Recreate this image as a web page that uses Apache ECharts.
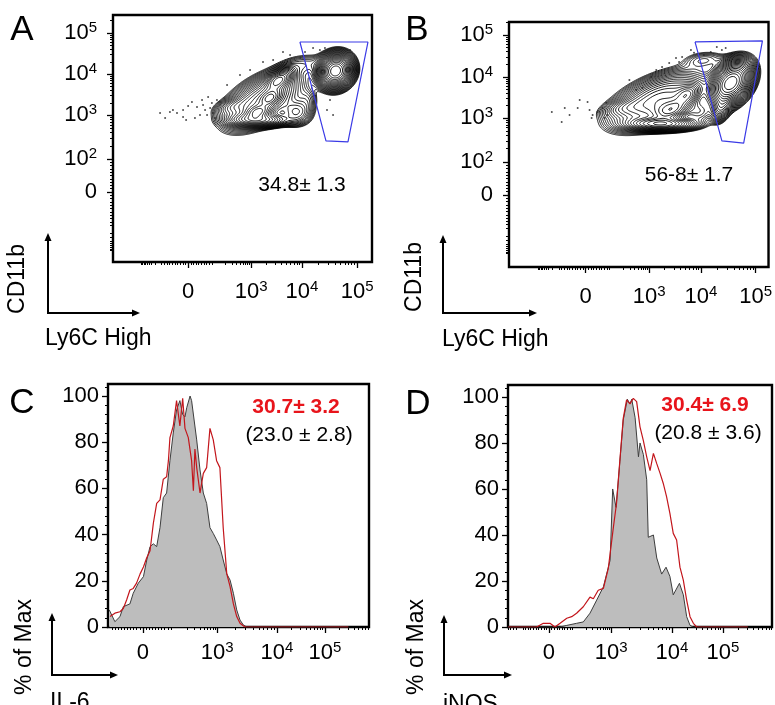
<!DOCTYPE html>
<html><head><meta charset="utf-8">
<script src="https://cdn.jsdelivr.net/npm/echarts@6/dist/echarts.min.js"></script>
<style>html,body{margin:0;padding:0;background:#fff}#c{width:775px;height:705px}</style>
</head><body><div id="c"></div>
<script>
// ---------- tick labels ----------
const xTickLabels = ['0', '10{s|3}', '10{s|4}', '10{s|5}'];
const yTickLabelsAB = ['0', '10{s|2}', '10{s|3}', '10{s|4}', '10{s|5}'];
const histYTickLabels = ['0', '20', '40', '60', '80', '100'];
const histYTickValues = [0, 20, 40, 60, 80, 100];
// label positions on the display (channel 0-1024) scale
const aXTickPos = [297, 546, 747, 965];
const aYTickPos = [290, 427, 609, 779, 949];
const bXTickPos = [302, 553, 757, 973];
const bYTickPos = [301, 439, 623, 794, 970];
const cXTickPos = [137, 428, 663, 851];
const dXTickPos = [159, 400, 636, 834];

// ---------- panel A: populations [centerX, centerY, spreadX, spreadY, correlation, weight] ----------
const aPopLy6CHigh   = [880, 792, 31.6, 33.2, 0.10, 1.00];
const aPopEnvelope   = [593, 672, 75.0, 58.0, 0.55, 0.25];
const aPopBottomBand = [573, 589, 59.3, 14.5, 0.00, 0.30];
const aPopLowerPeak  = [573, 622, 27.7, 16.6, 0.30, 0.35];
const aPopMidPeak    = [621, 680, 23.7, 20.7, 0.40, 0.30];
const aPopUpperPeak  = [656, 755, 29.0, 24.9, 0.50, 0.35];
const aPopLowerRight = [725, 622, 33.0, 29.0, 0.00, 0.10];
const aPopTail       = [471, 643, 39.5, 20.7, 0.40, 0.05];
const aPopRightExt   = [767, 672, 23.7, 29.0, 0.00, 0.03];
const aPopNeck       = [759, 821, 55.4, 24.9, 0.20, 0.025];
const aOutlierEvents = [[206,597],[225,622],[237,630],[253,618],[277,601],[277,630],[312,663],[332,643],[352,672],[356,651],[364,630],[372,609],[344,609],[376,684],[384,638],[395,618],[391,659],[411,672],[451,734],[593,829],[633,837],[672,871],[700,858],[791,887],[818,879],[838,887],[937,879],[846,630],[870,609],[858,672],[289,589],[324,597],[297,647],[186,618],[403,597],[502,775],[542,796],[759,871]];
const aGate = [[739,912],[1008,912],[929,498],[842,502],[739,912]];

// ---------- panel B ----------
const bPopLy6CHigh   = [875, 769, 39.0, 43.9, 0.35, 1.00];
const bPopHighLower  = [836, 665, 19.6, 29.3, 0.30, 0.15];
const bPopEnvelope   = [592, 698, 94.0, 58.5, 0.55, 0.25];
const bPopBottomBand = [600, 598, 66.7, 14.6, 0.00, 0.45];
const bPopLowerPeak  = [639, 656, 39.2, 25.1, 0.40, 0.35];
const bPopUpperPeak  = [702, 719, 27.5, 25.1, 0.40, 0.25];
const bPopLowerRight = [749, 648, 31.4, 25.1, 0.00, 0.06];
const bPopTail       = [455, 665, 47.1, 20.9, 0.40, 0.05];
const bPopNeck       = [769, 865, 47.1, 20.9, 0.20, 0.03];
const bOutlierEvents = [[169,648],[208,606],[220,665],[239,635],[271,665],[279,698],[310,690],[318,656],[330,635],[326,623],[349,648],[369,665],[377,623],[384,686],[388,635],[475,782],[502,740],[526,748],[561,794],[581,823],[604,836],[632,853],[659,874],[671,857],[683,878],[718,907],[730,895],[769,886],[796,899],[840,907],[855,915],[820,920]];
const bGate = [[734,941],[1000,945],[926,518],[840,527],[734,941]];

// ---------- panel C: IL-6 histograms [channel, % of max] ----------
const cControl = [[5,7.4],[27,2.3],[47,4.5],[60,8.8],[86,10],[99,14.6],[119,19],[139,21.8],[152,29],[165,34.8],[178,36],[191,34.8],[204,43],[217,56],[230,58],[243,72],[256,84],[269,94],[282,98],[293,92],[302,91],[309,95],[322,100],[328,98],[348,81],[361,68],[374,58],[387,53.5],[400,43],[413,40.5],[426,37.7],[439,34.8],[452,29],[466,23],[479,20.3],[492,14.6],[505,7.4],[518,3],[531,0.9],[544,0],[943,0]];
const cTreated = [[8,4.5],[27,6],[47,6.6],[60,8],[73,11.7],[86,16],[99,16.7],[112,19],[126,23],[139,26],[152,30],[165,33],[178,45],[191,53.5],[204,55],[217,64],[230,65],[237,72],[243,82],[256,87],[269,98],[282,87],[293,99],[302,86],[315,82],[328,72],[335,59],[341,77],[348,69],[361,58],[374,66.5],[387,69],[400,86],[413,81],[426,72],[439,69],[452,43],[466,23],[479,17.5],[492,10],[505,4.5],[518,1.6],[537,0],[943,0]];
// ---------- panel D: iNOS histograms ----------
const dControl = [[1,0],[202,0],[228,0.7],[266,1.6],[292,2.2],[318,6],[344,11.7],[370,17.5],[396,29],[406,60],[419,52],[434,72],[447,90],[463,99],[473,97],[480,99],[493,91],[506,74],[512,80],[525,75],[538,64],[544,39],[564,40],[577,30],[596,23],[613,26],[628,22],[641,14],[665,19],[680,14],[693,4.5],[706,0.7],[719,0],[930,0]];
const dTreated = [[1,0],[111,0],[137,1.6],[163,1.6],[182,0],[202,1.6],[228,3.8],[247,4.5],[266,6],[292,8.8],[318,13],[331,12.3],[350,16],[370,16.8],[389,25.5],[409,43.6],[421,53.8],[434,72.6],[447,90.7],[460,98.7],[473,97],[486,99.4],[499,98],[512,87],[525,81],[538,74],[551,68],[564,75.5],[577,71],[590,66.8],[602,62.5],[615,56.7],[628,49.4],[641,40.7],[654,37.8],[667,26],[680,20.4],[693,11.7],[706,4.5],[719,1.6],[732,0],[930,0]];

const aPops = [aPopLy6CHigh, aPopEnvelope, aPopBottomBand, aPopLowerPeak, aPopMidPeak, aPopUpperPeak, aPopLowerRight, aPopTail, aPopRightExt, aPopNeck];
const bPops = [bPopLy6CHigh, bPopHighLower, bPopEnvelope, bPopBottomBand, bPopLowerPeak, bPopUpperPeak, bPopLowerRight, bPopTail, bPopNeck];

// ---------- contour computation (marching squares on a density grid) ----------
function density(pops, x, y) {
  let s = 0;
  for (const [cx, cy, sx, sy, r, w] of pops) {
    const dx = (x - cx) / sx, dy = (y - cy) / sy;
    const q = (dx * dx - 2 * r * dx * dy + dy * dy) / (1 - r * r);
    s += w * Math.exp(-q / 2);
  }
  return s;
}
function contourSegments(pops, nLevels, minFrac) {
  const N = 256, step = 1024 / N, W = N + 1;
  const g = new Float64Array(W * W);
  let max = 0;
  for (let j = 0; j <= N; j++) for (let i = 0; i <= N; i++) {
    const v = density(pops, i * step, j * step);
    g[j * W + i] = v; if (v > max) max = v;
  }
  const table = {1:[[0,3]],2:[[0,1]],3:[[1,3]],4:[[1,2]],5:[[0,3],[1,2]],6:[[0,2]],7:[[2,3]],8:[[2,3]],9:[[0,2]],10:[[0,1],[2,3]],11:[[1,2]],12:[[1,3]],13:[[0,1]],14:[[0,3]]};
  const segs = [];
  for (let k = 1; k <= nLevels; k++) {
    const L = max * Math.pow(minFrac, k / nLevels);
    for (let j = 0; j < N; j++) for (let i = 0; i < N; i++) {
      const a = g[j * W + i], b = g[j * W + i + 1], c = g[(j + 1) * W + i + 1], d = g[(j + 1) * W + i];
      const idx = (a > L ? 1 : 0) | (b > L ? 2 : 0) | (c > L ? 4 : 0) | (d > L ? 8 : 0);
      if (idx === 0 || idx === 15) continue;
      const x0 = i * step, y0 = j * step;
      const ep = e => {
        if (e === 0) return [x0 + step * (L - a) / (b - a), y0];
        if (e === 1) return [x0 + step, y0 + step * (L - b) / (c - b)];
        if (e === 2) return [x0 + step * (L - d) / (c - d), y0 + step];
        return [x0, y0 + step * (L - a) / (d - a)];
      };
      for (const [e1, e2] of table[idx]) segs.push({coords: [ep(e1), ep(e2)]});
    }
  }
  return segs;
}

// ---------- ticks ----------
function minorTicks(p0, decs) {
  const out = [];
  const n = decs.length;
  for (let k = 0; k < n; k++) {
    const p = decs[k], q = k < n - 1 ? decs[k + 1] : p + (p - decs[k - 1]);
    for (let m = 2; m <= 9; m++) out.push(p + (q - p) * Math.log10(m));
  }
  const s = decs[0] - p0;
  for (let m = 1; m <= 9; m++) { out.push(p0 + s * m / 10); out.push(p0 - s * m / 10); }
  out.push(p0 - s);
  for (let m = 2; m <= 9; m++) out.push(p0 - s - s * 0.8 * Math.log10(m));
  return out.filter(v => v > 0 && v < 1024);
}

const FONT = '"Liberation Sans", Arial, sans-serif';
const rich = {s: {fontSize: 15, verticalAlign: 'top', lineHeight: 15, fontFamily: FONT, color: '#000'}};

function axisPair(dim, grid, pos, labels, p2, margin, min, max, minors) {
  const isX = dim === 'x';
  const mn = minors || minorTicks(pos[0], [p2].concat(isX ? pos.slice(1) : pos.slice(2)));
  const base = {type: 'value', gridIndex: grid, min: min, max: max, position: isX ? 'bottom' : 'left',
    axisLine: {show: false}, splitLine: {show: false}};
  return [
    Object.assign({}, base, {
      axisTick: {show: true, customValues: pos, length: 6, lineStyle: {color: '#000', width: 1.3}},
      axisLabel: {show: true, customValues: pos, margin: margin, fontSize: 22, lineHeight: 26, color: '#000', fontFamily: FONT, rich: rich,
        formatter: v => { let bi = 0; pos.forEach((p, i) => { if (Math.abs(p - v) < Math.abs(pos[bi] - v)) bi = i; }); return labels[bi]; }}
    }),
    Object.assign({}, base, {
      axisLabel: {show: false},
      axisTick: {show: true, customValues: mn, length: 3, lineStyle: {color: '#000', width: 1}}
    })
  ];
}

const histMinorY = [4,8,12,16,24,28,32,36,44,48,52,56,64,68,72,76,84,88,92,96,104];
const xAxes = [].concat(
  axisPair('x', 0, aXTickPos, xTickLabels, aXTickPos[0] + 0.42 * (aXTickPos[1] - aXTickPos[0]), 17, 0, 1024),
  axisPair('x', 1, bXTickPos, xTickLabels, bXTickPos[0] + 0.42 * (bXTickPos[1] - bXTickPos[0]), 17, 0, 1024),
  axisPair('x', 2, cXTickPos, xTickLabels, cXTickPos[0] + 0.42 * (cXTickPos[1] - cXTickPos[0]), 13, 0, 1024),
  axisPair('x', 3, dXTickPos, xTickLabels, dXTickPos[0] + 0.42 * (dXTickPos[1] - dXTickPos[0]), 13, 0, 1024)
);
const yAxes = [].concat(
  axisPair('y', 0, aYTickPos, yTickLabelsAB, aYTickPos[1], 16, 0, 1024),
  axisPair('y', 1, bYTickPos, yTickLabelsAB, bYTickPos[1], 16, 0, 1024),
  axisPair('y', 2, histYTickValues, histYTickLabels, 0, 9, 0, 105.2, histMinorY),
  axisPair('y', 3, histYTickValues, histYTickLabels, 0, 9, 0, 105.2, histMinorY)
);

const grids = [
  {left: 113, top: 15, width: 259, height: 247},
  {left: 509, top: 22, width: 261, height: 245},
  {left: 108, top: 384, width: 261, height: 243},
  {left: 508, top: 385, width: 264, height: 242}
].map(g => Object.assign(g, {show: true, borderColor: '#000', borderWidth: 2.4, backgroundColor: 'transparent'}));

function contourSeries(pops, gi) {
  return {type: 'lines', coordinateSystem: 'cartesian2d', xAxisIndex: gi * 2, yAxisIndex: gi * 2, polyline: false,
    large: true, largeThreshold: 100, silent: true, animation: false,
    lineStyle: {color: '#000', width: 0.9, opacity: 1}, data: contourSegments(pops, 24, 0.01)};
}
function dotSeries(ev, gi) {
  return {type: 'scatter', xAxisIndex: gi * 2, yAxisIndex: gi * 2, symbolSize: 2, itemStyle: {color: '#222'}, data: ev, silent: true, animation: false};
}
function gateSeries(gt, gi) {
  return {type: 'line', xAxisIndex: gi * 2, yAxisIndex: gi * 2, data: gt, symbol: 'none', lineStyle: {color: '#3a3ae6', width: 1.2}, silent: true, animation: false, z: 5};
}
function histSeries(d, gi, ctrl) {
  return ctrl ? {type: 'line', xAxisIndex: gi * 2, yAxisIndex: gi * 2, data: d, symbol: 'none', lineStyle: {color: '#3d3d3d', width: 1}, areaStyle: {color: '#bdbdbd', opacity: 1}, silent: true, animation: false}
              : {type: 'line', xAxisIndex: gi * 2, yAxisIndex: gi * 2, data: d, symbol: 'none', lineStyle: {color: '#c3161c', width: 1.2}, silent: true, animation: false, z: 3};
}

function txt(x, y, s, size, opts) {
  return Object.assign({type: 'text', x: x, y: y, style: Object.assign({text: s, fontSize: size, fontFamily: FONT, fill: '#000', align: 'center', verticalAlign: 'middle'}, (opts && opts.style) || {})}, (opts && opts.el) || {});
}
function arrows(x0, y0, yTop, xRight) {
  return [
    {type: 'line', shape: {x1: x0, y1: y0, x2: x0, y2: yTop + 6}, style: {stroke: '#000', lineWidth: 2}},
    {type: 'polygon', shape: {points: [[x0 - 3.5, yTop + 8], [x0 + 3.5, yTop + 8], [x0, yTop]]}, style: {fill: '#000'}},
    {type: 'line', shape: {x1: x0 - 1, y1: y0, x2: xRight - 6, y2: y0}, style: {stroke: '#000', lineWidth: 2}},
    {type: 'polygon', shape: {points: [[xRight - 8, y0 - 3.5], [xRight - 8, y0 + 3.5], [xRight, y0]]}, style: {fill: '#000'}}
  ];
}

const graphics = [].concat(
  [txt(22, 30, 'A', 35), txt(417, 30, 'B', 35), txt(22, 403, 'C', 35), txt(418, 404, 'D', 35),
   txt(302, 185, '34.8± 1.3', 21), txt(689, 175, '56-8± 1.7', 21),
   txt(296, 407, '30.7± 3.2', 21, {style: {fill: '#e8141b', fontWeight: 'bold'}}),
   txt(299, 435, '(23.0 ± 2.8)', 21),
   txt(705, 405, '30.4± 6.9', 21, {style: {fill: '#e8141b', fontWeight: 'bold'}}),
   txt(708, 433, '(20.8 ± 3.6)', 21),
   txt(18, 279, 'CD11b', 23, {el: {rotation: Math.PI / 2}}),
   txt(415, 277, 'CD11b', 23, {el: {rotation: Math.PI / 2}}),
   txt(45, 339, 'Ly6C High', 23, {style: {align: 'left'}}),
   txt(442, 340, 'Ly6C High', 23, {style: {align: 'left'}}),
   txt(25, 647, '% of Max', 23, {el: {rotation: Math.PI / 2}}),
   txt(417, 647, '% of Max', 23, {el: {rotation: Math.PI / 2}}),
   txt(50, 703, 'IL-6', 23, {style: {align: 'left'}}),
   txt(443, 705, 'iNOS', 23, {style: {align: 'left'}})],
  arrows(48, 313, 233, 140), arrows(443, 313, 235, 537),
  arrows(52, 675, 613, 118), arrows(444, 675, 615, 512)
);

const chart = echarts.init(document.getElementById('c'), null, {renderer: 'canvas'});
chart.setOption({
  animation: false,
  backgroundColor: '#fff',
  grid: grids,
  xAxis: xAxes,
  yAxis: yAxes,
  series: [
    contourSeries(aPops, 0), dotSeries(aOutlierEvents, 0), gateSeries(aGate, 0),
    contourSeries(bPops, 1), dotSeries(bOutlierEvents, 1), gateSeries(bGate, 1),
    histSeries(cControl, 2, true), histSeries(cTreated, 2, false),
    histSeries(dControl, 3, true), histSeries(dTreated, 3, false)
  ],
  graphic: graphics
});
</script></body></html>
